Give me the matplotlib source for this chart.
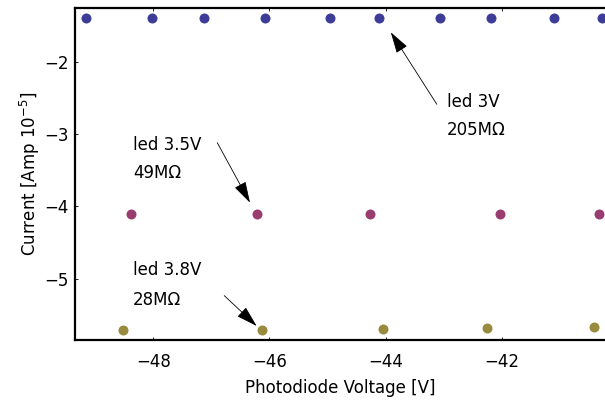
#!/usr/bin/env python3

import numpy as np
import matplotlib
matplotlib.use("Agg")
import matplotlib.pyplot as plt

# data (current in units of 1e-5 A)
v_3v = [-49.16, -48.02, -47.13, -46.07, -44.96, -44.11, -43.07, -42.18, -41.09, -40.28]
i_3v = [-1.40, -1.40, -1.40, -1.40, -1.40, -1.40, -1.40, -1.40, -1.40, -1.40]

v_35v = [-48.38, -46.21, -44.27, -42.03, -40.32]
i_35v = [-4.11, -4.11, -4.11, -4.10, -4.10]

v_38v = [-48.53, -46.13, -44.05, -42.26, -40.41]
i_38v = [-5.71, -5.71, -5.70, -5.68, -5.67]

x_ticks = [-48, -46, -44, -42]
y_ticks = [-2, -3, -4, -5]

c_blue = (0.24, 0.24, 0.6)
c_purple = (0.6, 0.24, 0.4428)
c_olive = (0.6, 0.547, 0.24)

plt.rcParams['font.family'] = ['DejaVu Sans']

fig = plt.figure(figsize=(6.05, 4.04), dpi=100)
ax = fig.add_axes([0.124, 0.1584, 0.876, 0.8218])

ax.plot(v_3v, i_3v, 'o', color=c_blue, ms=7.2, mec='none', clip_on=False)
ax.plot(v_35v, i_35v, 'o', color=c_purple, ms=7.2, mec='none', clip_on=False)
ax.plot(v_38v, i_38v, 'o', color=c_olive, ms=7.2, mec='none', clip_on=False)

ax.set_xlim(-49.35, -40.22)
ax.set_ylim(-5.85, -1.257)
ax.set_xticks(x_ticks)
ax.set_yticks(y_ticks)

for s in ['left', 'top', 'bottom']:
    ax.spines[s].set_linewidth(1.6)
ax.spines['right'].set_visible(False)
ax.tick_params(direction='in', length=2, width=0.6, top=True, labelsize=12)
ax.tick_params(axis='x', pad=9)
ax.tick_params(axis='y', pad=4.5)

ax.set_xlabel("Photodiode Voltage [V]", fontsize=12, labelpad=6)
ax.set_ylabel(r"Current [Amp 10$^{-5}$]", fontsize=12, labelpad=1.5)

arrow = dict(arrowstyle='-|>,head_length=0.95,head_width=0.28', color='black',
             lw=0.6, mutation_scale=14, shrinkA=0, shrinkB=0)

# led 3V
ax.text(-42.945, -2.562, "led 3V", fontsize=12, ha='left', va='center')
ax.text(-42.945, -2.949, "205M\u03a9", fontsize=12, ha='left', va='center')
ax.annotate("", xy=(-43.91, -1.593), xytext=(-43.117, -2.589), arrowprops=arrow)

# led 3.5V
ax.text(-48.348, -3.152, "led 3.5V", fontsize=12, ha='left', va='center')
ax.text(-48.348, -3.544, "49M\u03a9", fontsize=12, ha='left', va='center')
ax.annotate("", xy=(-46.336, -3.95), xytext=(-46.90, -3.12), arrowprops=arrow)

# led 3.8V
ax.text(-48.359, -4.881, "led 3.8V", fontsize=12, ha='left', va='center')
ax.text(-48.359, -5.296, "28M\u03a9", fontsize=12, ha='left', va='center')
ax.annotate("", xy=(-46.221, -5.656), xytext=(-46.779, -5.236), arrowprops=arrow)

plt.savefig("out.png", dpi=100)
